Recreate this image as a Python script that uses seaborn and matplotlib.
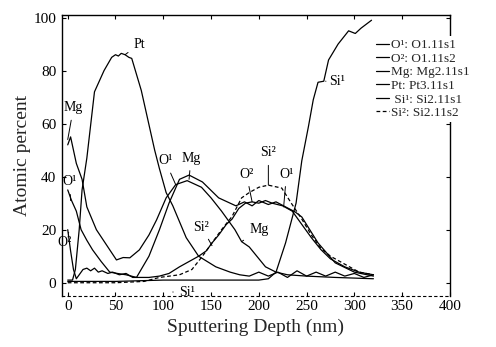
import numpy as np
import pandas as pd
import matplotlib
matplotlib.use("Agg")
import matplotlib.pyplot as plt
import seaborn as sns

# ==============================
# Data
# ==============================
o1_x = [0, 4, 9, 14, 20, 26, 35, 44, 52, 61, 72, 85, 96, 106, 117, 127, 141, 158,
        176, 185, 193, 200, 210, 218, 228, 238, 245, 262, 280, 300, 320]
o1_y = [35, 31, 27, 20, 16, 12.4, 8, 4, 3.5, 3, 2, 10, 20, 30, 39, 40.6, 38, 32,
        29, 30.5, 29, 31, 29.5, 30.5, 28.6, 26.7, 24.8, 15, 7.5, 4, 2.5]

o2_x = [0, 3, 6, 9, 12, 16, 20, 24, 28, 32, 36, 42, 47, 54, 61, 68, 75, 85, 96, 106,
        117, 127, 137, 145, 151, 158, 166, 172, 179, 186, 193, 200, 207, 214, 225,
        235, 245, 255, 265, 275, 290, 305, 320]
o2_y = [20, 12, 5, 1.5, 3, 5, 5.5, 4.5, 5.5, 4, 4.5, 3.5, 4, 3, 3.5, 2, 2, 2, 2.5, 3.5,
        6, 8, 10, 12, 15, 18, 22, 24, 28, 30, 30.5, 30, 31, 30, 29,
        27, 22, 17, 12.5, 9, 6, 4, 3]

mg_x = [0, 3, 6, 9, 15, 20, 30, 44, 51, 58, 65, 75, 85, 93, 103, 113, 125, 140, 150,
        161, 175, 182, 190, 207, 218, 230, 250, 280, 320]
mg_y = [52, 55, 50, 45, 39, 28.6, 20, 12.4, 8.6, 9.5, 9.4, 12.4, 18, 23.7, 32, 37, 38.5, 36, 32,
        27, 20, 15.5, 13.5, 6, 4, 3, 2.5, 2, 1.5]

pt_x = [0, 5, 8, 12, 15, 20, 28, 38, 46, 50, 53, 56, 60, 64, 67, 77, 91, 96, 103, 110,
        124, 137, 155, 170, 180, 190, 200, 210, 220, 230, 240, 250, 260, 270, 280,
        290, 300, 310, 320]
pt_y = [1, 1, 5, 20, 35, 47, 72, 80, 85, 86, 85.5, 86.5, 86, 85, 84.6, 72.5, 50, 43, 34, 29,
        17, 10, 6, 4, 3, 2.5, 4, 2.5, 4, 2, 4.5, 2.5, 4, 2.5, 4,
        2.5, 3.5, 2, 3]

si1_x = [0, 50, 100, 150, 200, 210, 218, 228, 239, 245, 252, 257, 262, 268, 273, 283,
         294, 301, 307, 318]
si1_y = [0.5, 0.5, 1, 1, 1, 1.5, 4, 15, 30, 46, 59, 69, 75.6, 76, 84, 90,
         95, 94, 96, 99]

si2_x = [0, 50, 80, 96, 117, 130, 141, 151, 161, 172, 182, 190, 200, 210, 224, 234,
         245, 255, 265, 275, 290, 305, 320]
si2_y = [0, 0, 0.5, 2, 3, 5, 10, 15, 20, 25, 32, 34, 36, 36.8, 35.7, 30,
         24, 18, 13, 10, 7, 4, 3]

series = [
    ("O¹: O1.11s1", o1_x, o1_y, "-"),
    ("O²: O1.11s2", o2_x, o2_y, "-"),
    ("Mg: Mg2.11s1", mg_x, mg_y, "-"),
    ("Pt: Pt3.11s1", pt_x, pt_y, "-"),
    (" Si¹: Si2.11s1", si1_x, si1_y, "-"),
    ("Si²: Si2.11s2", si2_x, si2_y, (0, (3, 2))),
]

# ==============================
# Plot
# ==============================
sns.set_theme(style="ticks")
plt.rcParams["font.family"] = ["Liberation Serif", "DejaVu Serif"]

fig = plt.figure(figsize=(4.96, 3.47), dpi=100)
ax = fig.add_axes([0.125, 0.147, 0.782, 0.81])

for lab, xs, ys, ls in series:
    df = pd.DataFrame({"x": xs, "y": ys})
    sns.lineplot(data=df, x="x", y="y", ax=ax, color="black", lw=0.9,
                 linestyle=ls, label=lab, estimator=None, sort=False)

ax.set_xlim(-6, 400)
ax.set_ylim(-5, 101)
ax.set_xticks(range(0, 401, 50))
ax.set_yticks(range(0, 101, 20))
ax.tick_params(direction="in", length=3, width=0.8, labelsize=11,
               top=True, right=True, colors="black")
ax.tick_params(axis="x", pad=3)
ax.tick_params(axis="y", pad=4)
for s in ["left", "top", "right"]:
    ax.spines[s].set_color("black")
    ax.spines[s].set_linewidth(1.0)
ax.spines["bottom"].set_linestyle((0, (2, 3)))
ax.spines["bottom"].set_linewidth(0.8)
ax.spines["bottom"].set_color("black")

ax.set_xlabel("Sputtering Depth (nm)", fontsize=14, labelpad=4)
ax.set_ylabel("Atomic percent", fontsize=14, labelpad=2)

# in-plot labels with leader lines
ann_kw = dict(fontsize=10, color="black", ha="center", va="center",
              arrowprops=dict(arrowstyle="-", color="black", lw=0.7, shrinkA=2, shrinkB=0))
ax.annotate("Pt", xy=(60, 86), xytext=(75, 90), **ann_kw)
ax.annotate("Mg", xy=(0, 54), xytext=(6, 66), **ann_kw)
ax.annotate("O¹", xy=(3, 31), xytext=(2, 38), **ann_kw)
ax.annotate("O²", xy=(1, 19), xytext=(-3, 15), **ann_kw)
ax.annotate("O¹", xy=(113, 37), xytext=(102, 46), **ann_kw)
ax.annotate("Mg", xy=(127, 39), xytext=(129, 47), **ann_kw)
ax.annotate("O²", xy=(193, 30.5), xytext=(187, 41), **ann_kw)
ax.annotate("Si²", xy=(210, 36.8), xytext=(210, 49), **ann_kw)
ax.annotate("O¹", xy=(226, 28.6), xytext=(229, 41), **ann_kw)
ax.annotate("Mg", xy=(182, 15.5), xytext=(200, 20), **ann_kw)
ax.annotate("Si²", xy=(151, 14), xytext=(140, 21), **ann_kw)
ax.annotate("Si¹", xy=(110, -3.5), xytext=(125, -3.5), **ann_kw)
ax.annotate("Si¹", xy=(270, 76), xytext=(282, 76), **ann_kw)

leg = ax.legend(loc="upper left", bbox_to_anchor=(0.752, 0.895),
                bbox_transform=fig.transFigure, frameon=True, fontsize=9.5,
                handlelength=1.0, handletextpad=0.2, labelspacing=0.1,
                borderpad=0.2, borderaxespad=0)
leg.get_frame().set_facecolor("white")
leg.get_frame().set_edgecolor("none")
leg.get_frame().set_alpha(1)
leg.set_zorder(10)

fig.savefig("out.png", dpi=100)
